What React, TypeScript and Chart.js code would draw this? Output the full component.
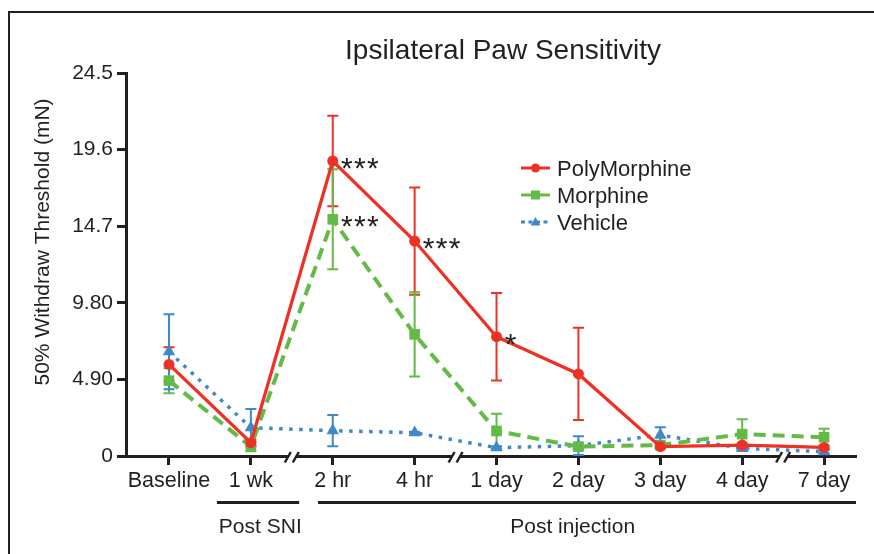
import React, { useEffect, useRef } from 'react';
import { Chart, registerables } from 'chart.js';

Chart.register(...registerables);

// ---------- data ----------
const xLabels = ['Baseline', '1 wk', '2 hr', '4 hr', '1 day', '2 day', '3 day', '4 day', '7 day'];
const yTickValues = [0, 4.9, 9.8, 14.7, 19.6, 24.5];
const yTickLabels = ['0', '4.90', '9.80', '14.7', '19.6', '24.5'];

const polyMorphine = [5.86, 0.85, 18.87, 13.75, 7.63, 5.25, 0.6, 0.7, 0.55];
const polyMorphineErr = [1.1, 0.2, 2.9, 3.43, 2.8, 2.95, 0.1, 0.1, 0.1];
const morphine = [4.82, 0.6, 15.14, 7.78, 1.6, 0.6, 0.7, 1.4, 1.2];
const morphineErr = [0.8, 0.3, 3.2, 2.7, 1.1, 0.2, 0.2, 0.95, 0.55];
const vehicle = [6.67, 1.81, 1.62, 1.49, 0.53, 0.66, 1.34, 0.49, 0.28];
const vehicleErr = [2.4, 1.2, 1.0, 0.05, 0.1, 0.6, 0.5, 0.1, 0.1];

const seriesNames = ['PolyMorphine', 'Morphine', 'Vehicle'];
const significance = [
  { series: 0, index: 2, label: '***' },
  { series: 1, index: 2, label: '***' },
  { series: 0, index: 3, label: '***' },
  { series: 0, index: 4, label: '*' },
];
const axisBreaks = [1.5, 3.5, 7.5];
const groupLabels = ['Post SNI', 'Post injection'];

const chartTitle = 'Ipsilateral Paw Sensitivity';
const yTitle = '50% Withdraw Threshold (mN)';

// ---------- styles ----------
const RED = '#EE3124';
const GREEN = '#62BB46';
const BLUE = '#3F89CA';
const INK = '#231F20';
const FONT = '"Liberation Sans", Arial, Helvetica, sans-serif';

const colors = [RED, GREEN, BLUE];
const errs = [polyMorphineErr, morphineErr, vehicleErr];

const decorPlugin = {
  id: 'decor',
  beforeDatasetsDraw(chart: any) {
    const ctx = chart.ctx;
    const xs = chart.scales.x;
    const ys = chart.scales.y;
    ctx.save();
    chart.data.datasets.forEach((ds: any, di: number) => {
      ctx.strokeStyle = colors[di];
      ctx.lineWidth = 2;
      ds.data.forEach((p: any, i: number) => {
        const e = errs[di][i];
        const x = xs.getPixelForValue(p.x);
        const yt = ys.getPixelForValue(p.y + e);
        const yb = ys.getPixelForValue(Math.max(0, p.y - e));
        ctx.beginPath();
        ctx.moveTo(x, yt);
        ctx.lineTo(x, yb);
        ctx.moveTo(x - 5.5, yt);
        ctx.lineTo(x + 5.5, yt);
        ctx.moveTo(x - 5.5, yb);
        ctx.lineTo(x + 5.5, yb);
        ctx.stroke();
      });
    });
    ctx.restore();
  },
  afterDraw(chart: any) {
    const ctx = chart.ctx;
    const xs = chart.scales.x;
    const area = chart.chartArea;
    ctx.save();

    // frame
    ctx.strokeStyle = INK;
    ctx.lineWidth = 2;
    ctx.beginPath();
    ctx.moveTo(9, 560);
    ctx.lineTo(9, 12);
    ctx.lineTo(880, 12);
    ctx.stroke();

    // title
    ctx.fillStyle = INK;
    ctx.font = `28px ${FONT}`;
    ctx.textAlign = 'center';
    ctx.textBaseline = 'alphabetic';
    ctx.fillText(chartTitle, 503, 58.5);

    // y title
    ctx.save();
    ctx.translate(49, 242);
    ctx.rotate(-Math.PI / 2);
    ctx.font = `21px ${FONT}`;
    ctx.textAlign = 'center';
    ctx.fillText(yTitle, 0, 0);
    ctx.restore();

    // legend
    const rows = [168, 195, 222];
    seriesNames.forEach((name, i) => {
      const y = rows[i];
      ctx.strokeStyle = colors[i];
      ctx.lineWidth = 3;
      ctx.setLineDash(i === 2 ? [4, 3.5] : []);
      ctx.beginPath();
      ctx.moveTo(521, y);
      ctx.lineTo(550, y);
      ctx.stroke();
      ctx.setLineDash([]);
      ctx.fillStyle = colors[i];
      const cx = 535.5;
      ctx.beginPath();
      if (i === 0) {
        ctx.arc(cx, y, 4.5, 0, Math.PI * 2);
      } else if (i === 1) {
        ctx.rect(cx - 4.5, y - 4.5, 9, 9);
      } else {
        ctx.moveTo(cx, y - 5);
        ctx.lineTo(cx + 4.8, y + 3.5);
        ctx.lineTo(cx - 4.8, y + 3.5);
        ctx.closePath();
      }
      ctx.fill();
      ctx.fillStyle = INK;
      ctx.font = `22px ${FONT}`;
      ctx.textAlign = 'left';
      ctx.textBaseline = 'alphabetic';
      ctx.fillText(name, 557, y + 8);
    });

    // significance stars
    ctx.fillStyle = INK;
    ctx.font = `30px ${FONT}`;
    ctx.textAlign = 'center';
    ctx.textBaseline = 'alphabetic';
    significance.forEach((s) => {
      const pt = chart.getDatasetMeta(s.series).data[s.index];
      for (let k = 0; k < s.label.length; k++) {
        ctx.fillText('*', pt.x + 14 + k * 13, pt.y + 17);
      }
    });

    // axis breaks
    const cy = area.bottom;
    axisBreaks.forEach((b) => {
      const cx = xs.getPixelForValue(b);
      ctx.fillStyle = '#ffffff';
      ctx.fillRect(cx - 4, cy - 2.5, 8, 5);
      ctx.strokeStyle = INK;
      ctx.lineWidth = 2.5;
      ctx.beginPath();
      ctx.moveTo(cx - 7, cy + 6.5);
      ctx.lineTo(cx - 1, cy - 4);
      ctx.moveTo(cx + 1, cy + 6.5);
      ctx.lineTo(cx + 7, cy - 4);
      ctx.stroke();
    });

    // group brackets
    ctx.strokeStyle = INK;
    ctx.lineWidth = 3;
    ctx.beginPath();
    ctx.moveTo(xs.getPixelForValue(0.585), 502.5);
    ctx.lineTo(xs.getPixelForValue(1.59), 502.5);
    ctx.moveTo(xs.getPixelForValue(1.82), 502.5);
    ctx.lineTo(area.right, 502.5);
    ctx.stroke();
    ctx.fillStyle = INK;
    ctx.font = `21px ${FONT}`;
    ctx.textAlign = 'center';
    ctx.textBaseline = 'alphabetic';
    ctx.fillText(groupLabels[0], xs.getPixelForValue(1.115), 533);
    ctx.fillText(groupLabels[1], xs.getPixelForValue(4.93), 533);

    ctx.restore();
  },
};

export default function App() {
  const ref = useRef<HTMLCanvasElement | null>(null);

  useEffect(() => {
    if (!ref.current) return;
    const toPts = (arr: number[]) => arr.map((v, i) => ({ x: i, y: v }));
    const chart = new Chart(ref.current, {
      type: 'line',
      data: {
        datasets: [
          {
            label: seriesNames[0],
            data: toPts(polyMorphine),
            borderColor: RED,
            backgroundColor: RED,
            borderWidth: 3.3,
            pointStyle: 'circle',
            pointRadius: 5.5,
            pointBorderWidth: 0,
            pointBackgroundColor: RED,
            tension: 0,
          },
          {
            label: seriesNames[1],
            data: toPts(morphine),
            borderColor: GREEN,
            backgroundColor: GREEN,
            borderWidth: 4,
            borderDash: [12, 7],
            pointStyle: 'rect',
            pointRadius: 7.5,
            pointBorderWidth: 0,
            pointBackgroundColor: GREEN,
            tension: 0,
          },
          {
            label: seriesNames[2],
            data: toPts(vehicle),
            borderColor: BLUE,
            backgroundColor: BLUE,
            borderWidth: 3.5,
            borderDash: [3.5, 6.5],
            pointStyle: 'triangle',
            pointRadius: 7.2,
            pointBorderWidth: 0,
            pointBackgroundColor: BLUE,
            tension: 0,
          },
        ],
      },
      options: {
        animation: false,
        responsive: false,
        devicePixelRatio: 1,
        layout: { padding: { top: 73, right: 18, bottom: 58, left: 0 } },
        plugins: {
          legend: { display: false },
          title: { display: false },
          tooltip: { enabled: false },
        },
        scales: {
          x: {
            type: 'linear',
            min: -0.525,
            max: 8.39,
            afterFit: (s: any) => {
              s.height = 40;
            },
            afterBuildTicks: (s: any) => {
              s.ticks = xLabels.map((_, i) => ({ value: i }));
            },
            border: { display: true, color: INK, width: 3 },
            grid: {
              display: true,
              drawOnChartArea: false,
              drawTicks: true,
              tickLength: 9,
              tickWidth: 3,
              tickColor: INK,
            },
            ticks: {
              autoSkip: false,
              maxRotation: 0,
              minRotation: 0,
              padding: 3,
              color: INK,
              font: { family: FONT, size: 21.5 },
              callback: (v: any) => xLabels[v as number] ?? '',
            },
          },
          y: {
            type: 'linear',
            min: 0,
            max: 24.5,
            afterFit: (s: any) => {
              s.width = 126;
            },
            afterBuildTicks: (s: any) => {
              s.ticks = yTickValues.map((v) => ({ value: v }));
            },
            border: { display: true, color: INK, width: 3 },
            grid: {
              display: true,
              drawOnChartArea: false,
              drawTicks: true,
              tickLength: 9,
              tickWidth: 3,
              tickColor: INK,
            },
            ticks: {
              padding: 4,
              color: INK,
              font: { family: FONT, size: 21 },
              callback: (v: any) => {
                const i = yTickValues.indexOf(v as number);
                return i >= 0 ? yTickLabels[i] : '';
              },
            },
          },
        },
      },
      plugins: [decorPlugin],
    } as any);
    return () => chart.destroy();
  }, []);

  return (
    <div style={{ position: 'fixed', left: 0, top: 0, width: 874, height: 554, background: '#fff' }}>
      <canvas ref={ref} width={874} height={554} style={{ display: 'block', width: 874, height: 554 }} />
    </div>
  );
}
